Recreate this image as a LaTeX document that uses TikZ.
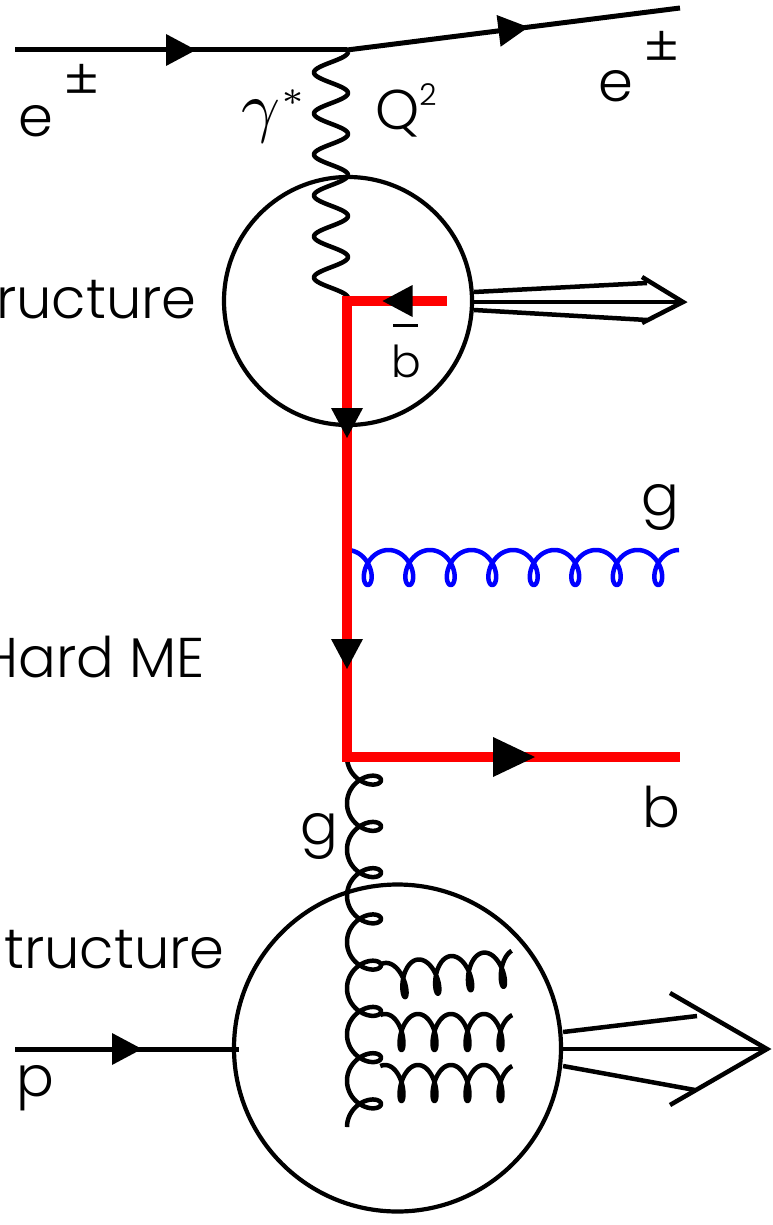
\documentclass[tikz,border=0pt]{standalone}
\usepackage{fontspec}
\setmainfont{Poppins Light}
\usetikzlibrary{decorations.markings,calc}

\tikzset{
  lbl/.style={inner sep=0pt, font=\fontsize{56}{60}\selectfont},
  fermion/.style={line width=5pt},
  quark/.style={line width=9.5pt, red, line join=miter},
  blob/.style={draw, circle, line width=4.2pt, inner sep=0pt},
  boson/.style={line width=4.5pt, line join=round},
  hadron/.style={line width=4.5pt},
  midarrow/.style={postaction={decorate, decoration={markings,
      mark=at position #1 with {\fill[black] (-15pt,-16pt) -- (15pt,0pt) -- (-15pt,16pt) -- cycle;}}}},
  bigarrow/.style={postaction={decorate, decoration={markings,
      mark=at position #1 with {\fill[black] (-21pt,-20pt) -- (21pt,0pt) -- (-21pt,20pt) -- cycle;}}}},
}

\begin{document}
\begin{tikzpicture}[x=1pt, y=-1pt]
\useasboundingbox (0,0) rectangle (772,1225);

% vertices
\coordinate (eIn) at (15,50);
\coordinate (eV) at (347,50);
\coordinate (eOut) at (680,8);
\coordinate (bV) at (347,301);
\coordinate (bbarEnd) at (447,301);
\coordinate (bB) at (347,757);
\coordinate (bOut) at (680,757);
\coordinate (pIn) at (15,1049);
\coordinate (pV) at (239,1049);
\coordinate (gJet) at (683,302);
\coordinate (pJet) at (767,1049);

% blobs
\node[blob, minimum size=248pt] (gBlob) at (348,301) {};
\node[blob, minimum size=327pt] (pBlob) at (397.5,1048) {};

% lepton lines
\draw[fermion, midarrow=0.5] (eIn) -- (eV);
\draw[fermion, midarrow=0.5] (eV) -- (eOut);
\draw[fermion, midarrow=0.5] (pIn) -- (pV);

% virtual photon
\draw[boson] plot[domain=0:246, samples=250] ({331+17*cos(\x*8.78049)}, {52+\x});

% gluon from the proton
\draw[boson] plot[domain=180:3060, samples=700] ({364+17*cos(\x)}, {757+(\x-180)*0.128472-14*sin(\x)});

% gluon cascade inside the proton
\begin{scope}[shift={(385,963)}, rotate=6]
  \draw[boson] plot[domain=160:1600, samples=320] ({(\x-180)*0.091667-8.5*sin(\x)}, {18+18*cos(\x)});
\end{scope}
\begin{scope}[shift={(385,1014)}]
  \draw[boson] plot[domain=160:1600, samples=320] ({(\x-180)*0.091667-8.5*sin(\x)}, {18+18*cos(\x)});
\end{scope}
\begin{scope}[shift={(385,1065)}]
  \draw[boson] plot[domain=160:1600, samples=320] ({(\x-180)*0.091667-8.5*sin(\x)}, {18+18*cos(\x)});
\end{scope}

% radiated gluon
\draw[boson, blue] plot[domain=180:3060, samples=700] ({347+(\x-180)*0.115278-12.5*sin(\x)}, {567.5+17.5*cos(\x)});

% heavy quark line
\draw[quark, midarrow=49.5pt, midarrow=222pt, midarrow=453pt, bigarrow=723pt]
  (bbarEnd) -- (bV) -- (bB) -- (bOut);

% hadronic remnants
\draw[hadron] ($(gBlob.east)+(0,-9)$) -- (647,283);
\draw[hadron] ($(gBlob.east)+(0,1)$) -- (gJet);
\draw[hadron] ($(gBlob.east)+(0,9)$) -- (647,320);
\draw[hadron] (642,277) -- (gJet) -- (642,323);

\draw[hadron] ($(pBlob.east)+(0,-16)$) -- (697,1016);
\draw[hadron] ($(pBlob.east)+(0,1)$) -- (pJet);
\draw[hadron] ($(pBlob.east)+(0,18)$) -- (695,1090);
\draw[hadron] (670,993) -- (pJet) -- (670,1105);

% labels
\node[lbl, anchor=base west] (eInLbl) at (18,137) {e\hspace{10pt}\raisebox{37pt}{±}};
\node[lbl, anchor=base west] (eOutLbl) at (598,102) {e\hspace{10pt}\raisebox{35pt}{±}};
\node[inner sep=0pt, anchor=base west, scale=6.8] (gammaLbl) at (240,130) {$\gamma^{\scriptscriptstyle *}$};
\node[lbl, anchor=base west] (qLbl) at (375,130) {Q\raisebox{24pt}{\fontsize{30}{30}\selectfont 2}};
\node[lbl, anchor=base east] (gStructLbl) at (197,318) {ructure};
\node[inner sep=0pt, anchor=base west, font=\fontsize{44}{44}\selectfont] (bbarLbl) at (391,377)
  {\rlap{\hspace{2pt}\raisebox{50pt}{\rule{25pt}{3pt}}}b};
\node[lbl, anchor=base west] (gLbl) at (641,515) {g};
\node[lbl, anchor=base east] (hardLbl) at (205,677) {Hard ME};
\node[lbl, anchor=base west] (bLbl) at (642,827) {b};
\node[lbl, anchor=base west] (gInLbl) at (300,844) {g};
\node[lbl, anchor=base east] (pStructLbl) at (225,968) {tructure};
\node[lbl, anchor=base west] (pLbl) at (16,1096) {p};
\end{tikzpicture}
\end{document}
